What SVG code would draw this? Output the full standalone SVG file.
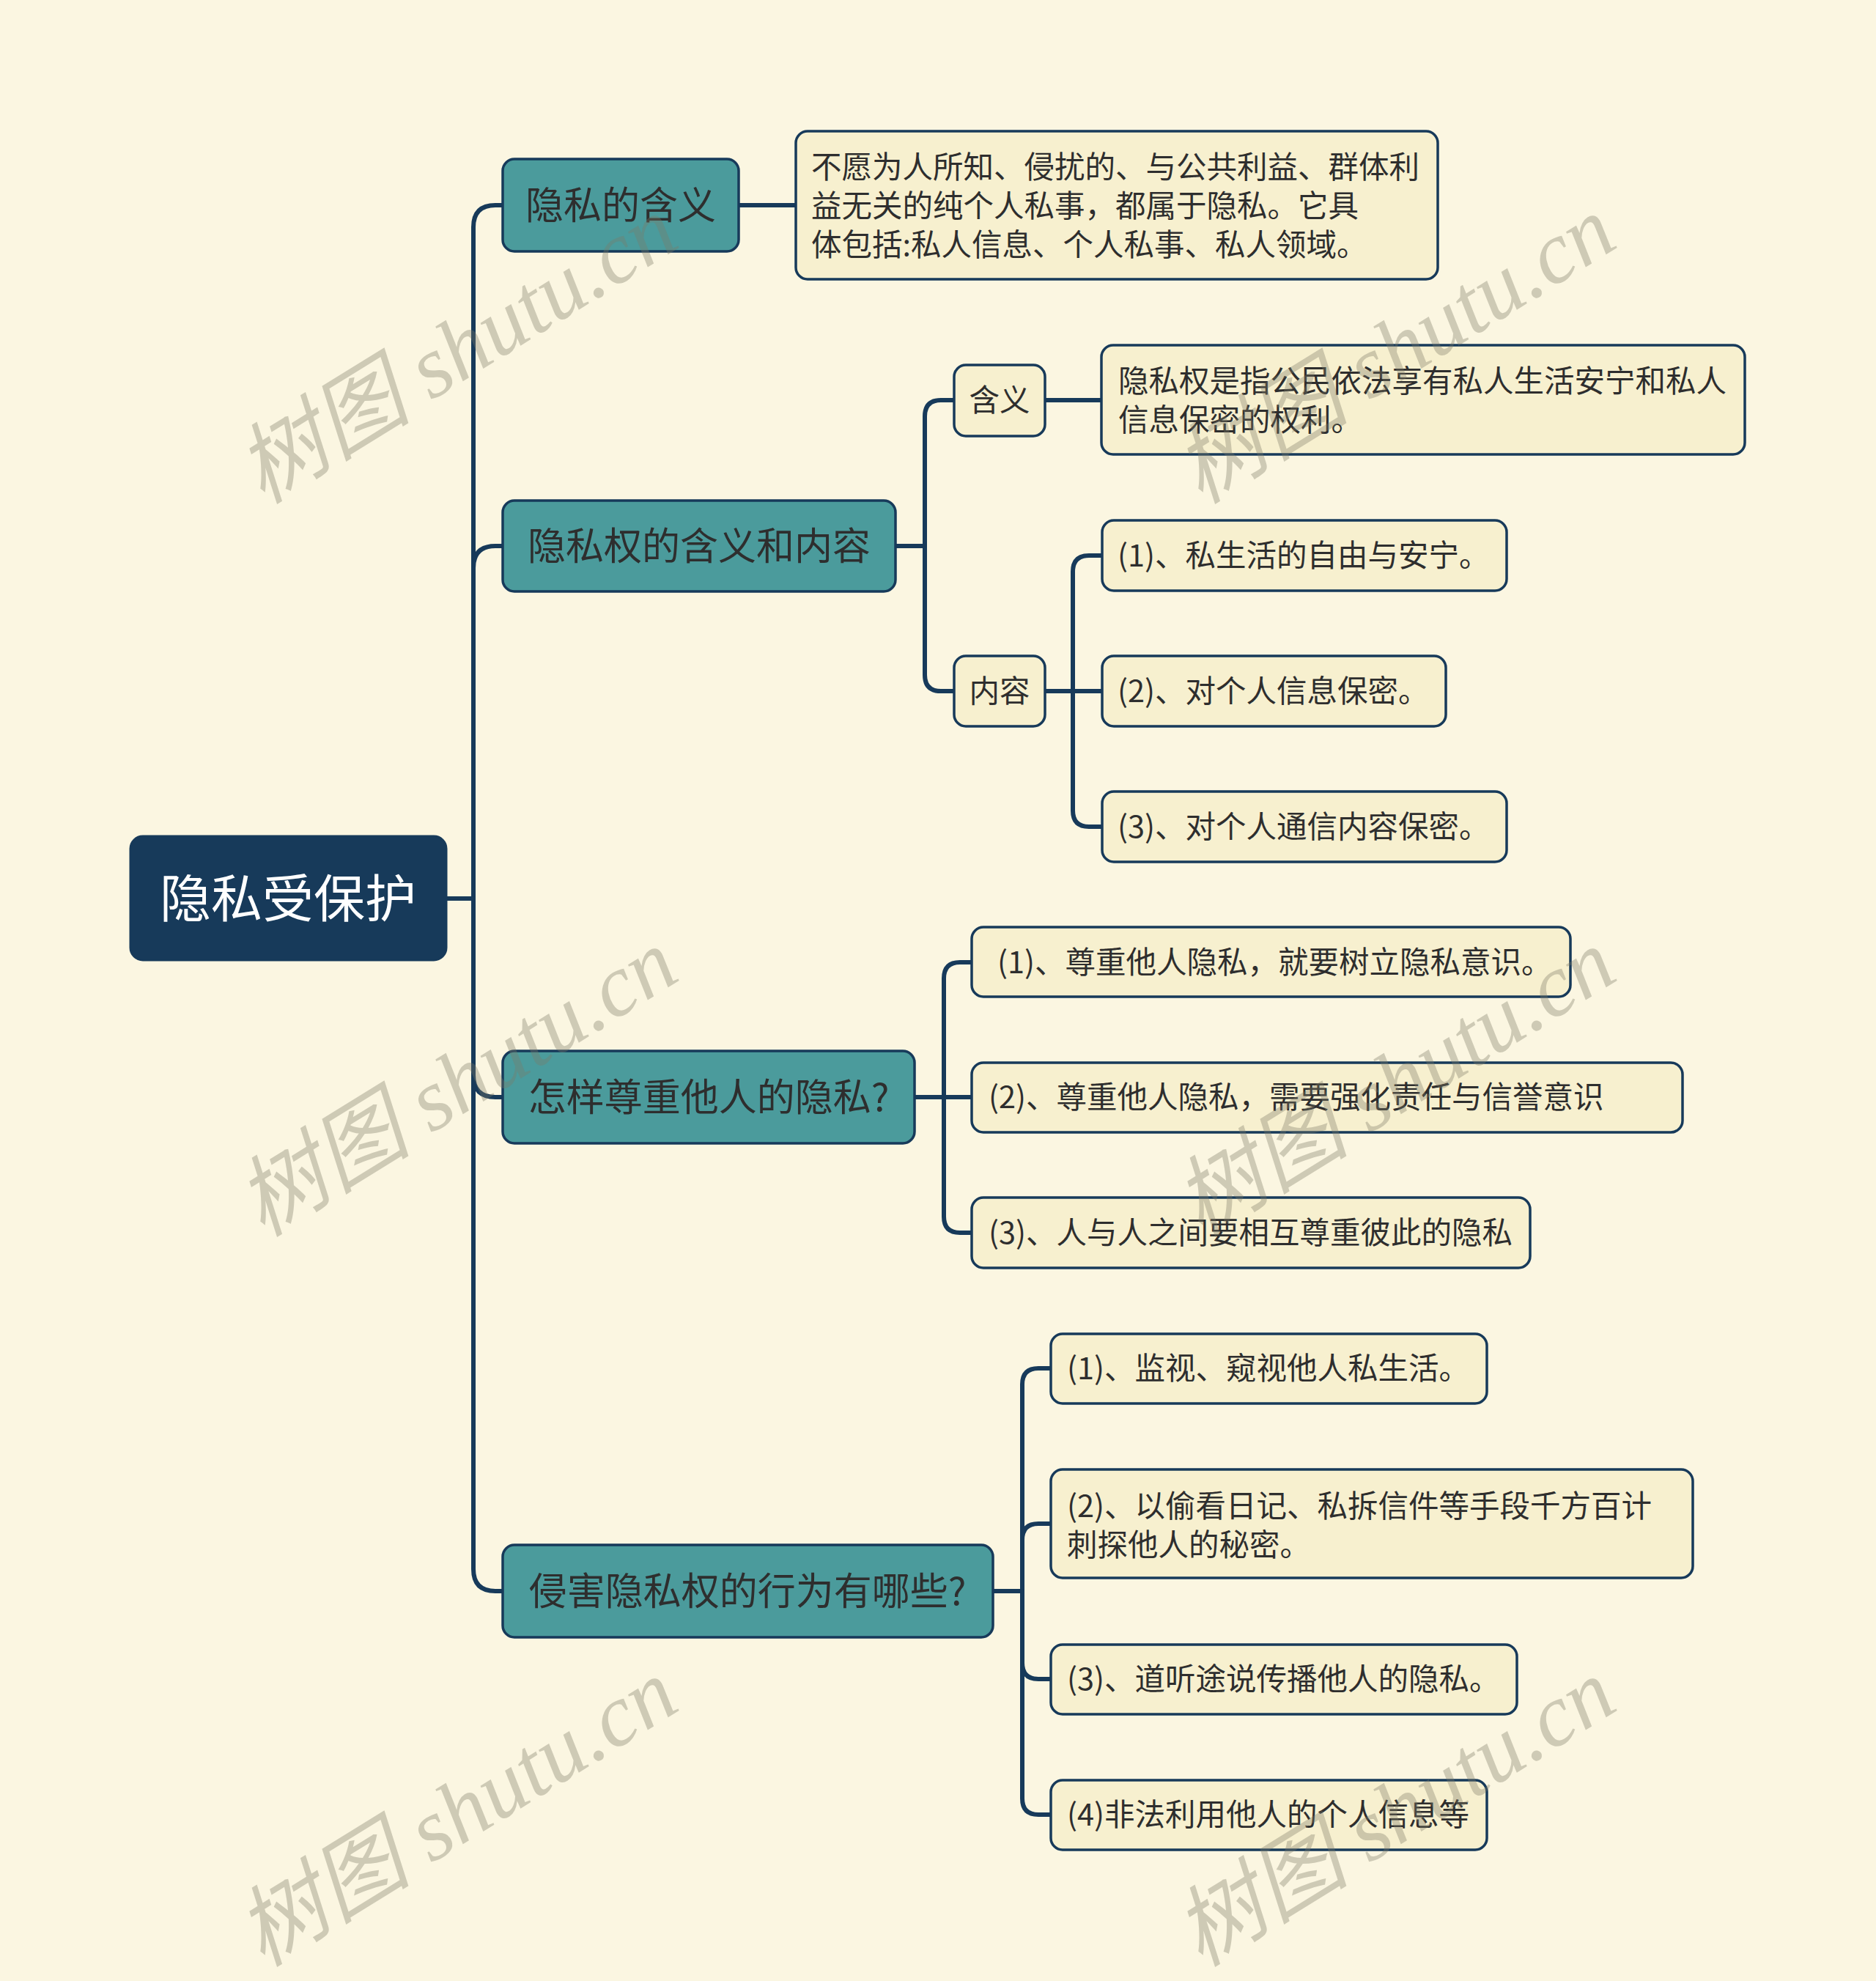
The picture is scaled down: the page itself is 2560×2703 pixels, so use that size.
<svg xmlns="http://www.w3.org/2000/svg" width="2560" height="2703" viewBox="0 0 2560 2703">
<style>
.bg{fill:#fbf6e1}
.root rect{fill:#173a5a;stroke:#173a5a;stroke-width:3}
.root text{fill:#ffffff;font-size:70px}
.l1 rect{fill:#4b9b9c;stroke:#173a5a;stroke-width:3.5}
.l1 text{fill:#2e2e2e;font-size:52px}
.l2 rect{fill:#f7f0cf;stroke:#173a5a;stroke-width:3.5}
.l2 text{fill:#2e2e2e;font-size:41.5px}
text{font-family:"Noto Sans CJK SC","Microsoft YaHei",sans-serif}
.conn path{fill:none;stroke:#173a5a;stroke-width:6;stroke-linecap:round}
.wm text{font-family:"Liberation Serif","Noto Sans CJK SC",serif;font-style:italic;font-size:120px;fill:#7d7a66;opacity:0.35}
</style>
<rect class="bg" x="0" y="0" width="2560" height="2703"/>

<g id="connectors" class="conn">
  <path d="M609,1226 H646"/>
  <path d="M646,1226 V310 Q646,280 676,280 H686"/>
  <path d="M646,1226 V775 Q646,745 676,745 H686"/>
  <path d="M646,1226 V1467 Q646,1497 676,1497 H686"/>
  <path d="M646,1226 V2141 Q646,2171 676,2171 H686"/>
  <path d="M1008,280 H1086"/>
  <path d="M1222,745 H1262"/>
  <path d="M1262,745 V568 Q1262,546 1284,546 H1302"/>
  <path d="M1262,745 V921 Q1262,943 1284,943 H1302"/>
  <path d="M1426,546 H1503"/>
  <path d="M1426,943 H1504"/>
  <path d="M1464,943 V780 Q1464,758 1486,758 H1504"/>
  <path d="M1464,943 V1106 Q1464,1128 1486,1128 H1504"/>
  <path d="M1248,1497 H1326"/>
  <path d="M1288,1497 V1335 Q1288,1313 1310,1313 H1326"/>
  <path d="M1288,1497 V1660 Q1288,1682 1310,1682 H1326"/>
  <path d="M1355,2171 H1395"/>
  <path d="M1395,2171 V1889 Q1395,1867 1417,1867 H1434"/>
  <path d="M1395,2171 V2101 Q1395,2079 1417,2079 H1434"/>
  <path d="M1395,2171 V2269 Q1395,2291 1417,2291 H1434"/>
  <path d="M1395,2171 V2454 Q1395,2476 1417,2476 H1434"/>
</g>

<g id="root" class="root">
  <rect x="178" y="1141" width="431" height="169" rx="17"/>
  <text x="393" y="1252" text-anchor="middle">隐私受保护</text>
</g>

<g id="n1" class="l1">
  <rect x="686" y="217" width="322" height="126" rx="16"/>
  <text x="847" y="299" text-anchor="middle">隐私的含义</text>
</g>
<g id="n2" class="l1">
  <rect x="686" y="683" width="536" height="124" rx="16"/>
  <text x="954" y="764" text-anchor="middle">隐私权的含义和内容</text>
</g>
<g id="n3" class="l1">
  <rect x="686" y="1434" width="562" height="126" rx="16"/>
  <text x="967" y="1516" text-anchor="middle">怎样尊重他人的隐私?</text>
</g>
<g id="n4" class="l1">
  <rect x="686" y="2108" width="669" height="126" rx="16"/>
  <text x="1020" y="2190" text-anchor="middle">侵害隐私权的行为有哪些?</text>
</g>

<g id="n1a" class="l2">
  <rect x="1086" y="179" width="876" height="202" rx="16"/>
  <text x="1107" y="243">不愿为人所知、侵扰的、与公共利益、群体利</text>
  <text x="1107" y="296">益无关的纯个人私事，都属于隐私。它具</text>
  <text x="1107" y="349">体包括:私人信息、个人私事、私人领域。</text>
</g>

<g id="n2a" class="l2">
  <rect x="1302" y="498" width="124" height="97" rx="16"/>
  <text x="1364" y="561" text-anchor="middle">含义</text>
</g>
<g id="n2a1" class="l2">
  <rect x="1503" y="471" width="878" height="149" rx="16"/>
  <text x="1526" y="535">隐私权是指公民依法享有私人生活安宁和私人</text>
  <text x="1526" y="588">信息保密的权利。</text>
</g>
<g id="n2b" class="l2">
  <rect x="1302" y="895" width="124" height="96" rx="16"/>
  <text x="1364" y="958" text-anchor="middle">内容</text>
</g>
<g id="n2b1" class="l2">
  <rect x="1504" y="710" width="552" height="96" rx="16"/>
  <text x="1525" y="773">(1)、私生活的自由与安宁。</text>
</g>
<g id="n2b2" class="l2">
  <rect x="1504" y="895" width="469" height="96" rx="16"/>
  <text x="1525" y="958">(2)、对个人信息保密。</text>
</g>
<g id="n2b3" class="l2">
  <rect x="1504" y="1080" width="552" height="96" rx="16"/>
  <text x="1525" y="1143">(3)、对个人通信内容保密。</text>
</g>

<g id="n3a" class="l2">
  <rect x="1326" y="1265" width="817" height="95" rx="16"/>
  <text x="1361" y="1328">(1)、尊重他人隐私，就要树立隐私意识。</text>
</g>
<g id="n3b" class="l2">
  <rect x="1326" y="1450" width="970" height="95" rx="16"/>
  <text x="1349" y="1512">(2)、尊重他人隐私，需要强化责任与信誉意识</text>
</g>
<g id="n3c" class="l2">
  <rect x="1326" y="1634" width="762" height="96" rx="16"/>
  <text x="1349" y="1697">(3)、人与人之间要相互尊重彼此的隐私</text>
</g>

<g id="n4a" class="l2">
  <rect x="1434" y="1820" width="595" height="95" rx="16"/>
  <text x="1456" y="1882">(1)、监视、窥视他人私生活。</text>
</g>
<g id="n4b" class="l2">
  <rect x="1434" y="2005" width="876" height="148" rx="16"/>
  <text x="1456" y="2070">(2)、以偷看日记、私拆信件等手段千方百计</text>
  <text x="1456" y="2123">刺探他人的秘密。</text>
</g>
<g id="n4c" class="l2">
  <rect x="1434" y="2244" width="636" height="95" rx="16"/>
  <text x="1456" y="2306">(3)、道听途说传播他人的隐私。</text>
</g>
<g id="n4d" class="l2">
  <rect x="1434" y="2429" width="595" height="95" rx="16"/>
  <text x="1456" y="2491">(4)非法利用他人的个人信息等</text>
</g>

<g id="watermarks" class="wm">
  <text x="645" y="512" text-anchor="middle" transform="rotate(-31.7 645 512)">树图 shutu.cn</text>
  <text x="1925" y="512" text-anchor="middle" transform="rotate(-31.7 1925 512)">树图 shutu.cn</text>
  <text x="645" y="1512" text-anchor="middle" transform="rotate(-31.7 645 1512)">树图 shutu.cn</text>
  <text x="1925" y="1512" text-anchor="middle" transform="rotate(-31.7 1925 1512)">树图 shutu.cn</text>
  <text x="645" y="2508" text-anchor="middle" transform="rotate(-31.7 645 2508)">树图 shutu.cn</text>
  <text x="1925" y="2508" text-anchor="middle" transform="rotate(-31.7 1925 2508)">树图 shutu.cn</text>
</g>
</svg>
